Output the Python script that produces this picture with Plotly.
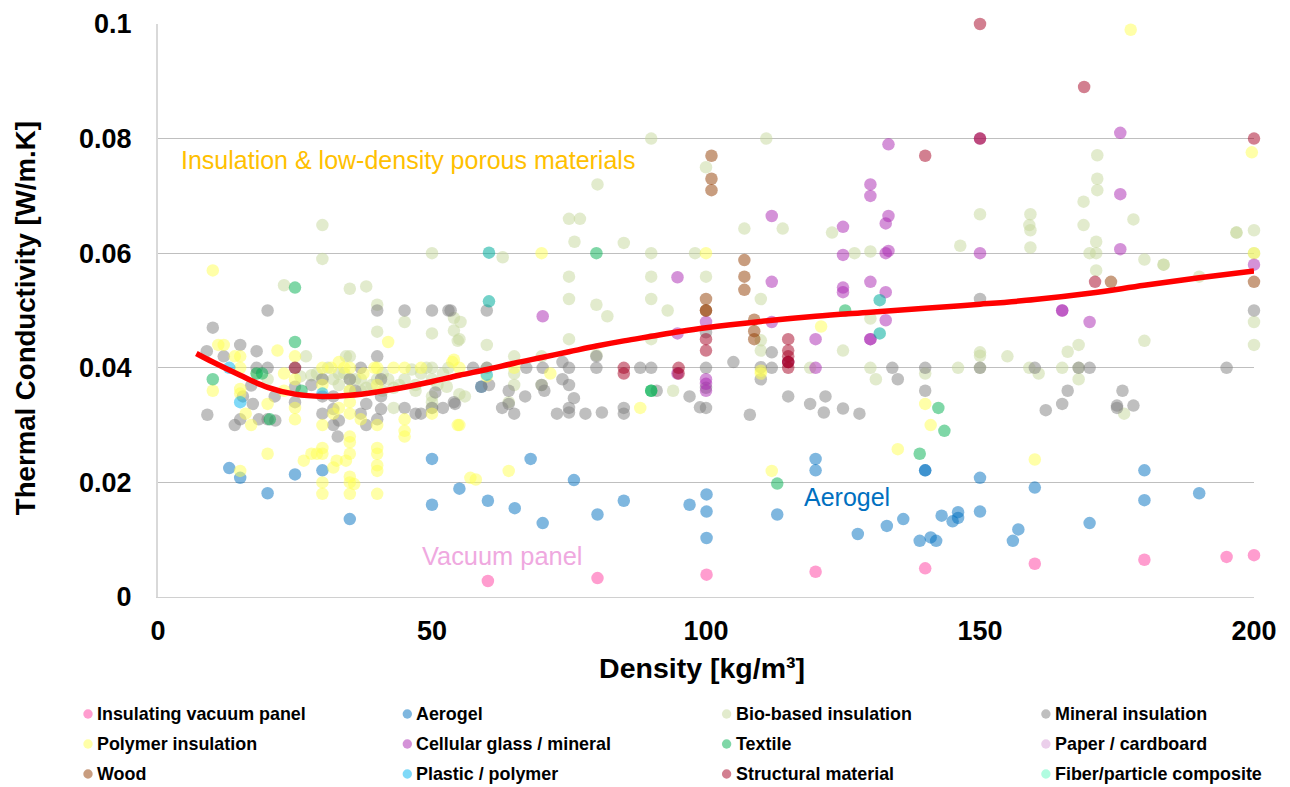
import plotly.graph_objects as go

FONT = "Liberation Sans, Arial, sans-serif"

# --- data (density kg/m3, conductivity W/m.K) ---
vacuum_x = [60.2, 80.2, 100.1, 120, 140, 160, 180, 195, 200]
vacuum_y = [.0028, .0033, .0039, .0044, .005, .0058, .0065, .007, .0073]

aerogel_x = [13, 15, 20, 25, 30, 35, 50, 50, 55, 59, 60.2, 65.1, 68, 70.2, 75.9, 80.2, 85, 97, 100.1, 100.1, 100.1,
             113, 120, 120, 127.7, 133, 136, 139, 140, 140, 141, 142, 143, 145, 146, 146, 150, 150, 156, 157, 160,
             170, 180, 180, 190]
aerogel_y = [.0225, .0208, .0181, .0214, .0221, .0136, .0241, .0161, .0189, .0367, .0168, .0155, .0241, .0129, .0204,
             .0144, .0168, .0161, .0179, .0149, .0103, .0144, .0241, .0221, .011, .0124, .0136, .0098, .0221, .0221,
             .0104, .0098, .0142, .0132, .0148, .0138, .0208, .0149, .0098, .0118, .0191, .0129, .0221, .0169, .0181]

bio_x = [23, 30, 30, 35, 38, 40, 40, 45, 50, 50, 54, 54, 54.7, 55.2, 55, 27, 34.3, 35, 20, 18, 26, 28, 32, 35, 39, 38,
         43, 45, 46.3, 50, 50, 53, 52.7, 50, 50, 50, 43, 36, 42, 55, 56, 60, 62.9, 60, 65, 65, 65, 64, 70, 70, 75, 75,
         75, 75, 77, 76, 80.2, 80, 80, 82, 85, 90, 90, 90, 90, 90, 93, 94, 98, 100, 100, 107, 110, 110, 110, 111, 114,
         119, 123, 125, 127.1, 130, 130, 130, 131, 140, 146.4, 146, 150, 150, 150, 150, 155, 159, 159.2, 159.2, 159.2,
         159, 160.7, 165, 166, 168, 168, 168, 168.9, 168.9, 170, 171.2, 171.2, 171.2, 171.4, 171.4, 171.4, 176.3, 178,
         180, 180, 183.5, 183.5, 190, 196.8, 196.8, 200, 200, 200, 200,
         29, 31, 33, 34, 37, 41, 44, 47, 48, 49, 51, 52, 30, 35, 40, 37, 41, 33, 47]
bio_y = [.0544, .0649, .059, .0538, .0542, .051, .0463, .048, .046, .06, .0487, .0465, .0447, .048, .045, .042, .042,
         .042, .038, .039, .0385, .0387, .038, .038, .037, .0365, .0365, .038, .0397, .04, .038, .04, .0367, .035,
         .034, .033, .033, .038, .038, .0354, .035, .044, .0593, .04, .042, .039, .037, .034, .042, .037, .045, .0559,
         .052, .066, .066, .062, .072, .051, .0422, .049, .0618, .08, .06, .0559, .052, .045, .05, .036, .06, .075,
         .0559, .0643, .052, .0448, .043, .08, .0643, .04, .0636, .043, .06, .0603, .0486, .04, .038, .039, .0613,
         .04, .0668, .0427, .0421, .04, .042, .0649, .0668, .064, .061, .04, .039, .04, .0428, .044, .04, .038, .069,
         .0649, .06, .062, .06, .057, .0771, .073, .071, .032, .0659, .0589, .0447, .058, .058, .0559, .0636, .0636,
         .064, .048, .044, .06,
         .039, .04, .037, .039, .036, .039, .037, .037, .039, .04, .037, .039, .038, .036, .038, .038, .036, .039, .036]

mineral_x = [8.9, 10, 9, 12, 15, 18, 20, 18, 20, 14, 15, 15.5, 17.3, 17, 18.4, 20, 21.4, 21.3, 25, 25, 25, 28, 30, 30, 30,
             32, 32, 33, 32, 32.8, 35, 36, 37, 37, 38, 38, 40, 40, 40.7, 40.7, 40.7, 40, 45, 45, 50, 53, 53.4, 47, 48,
             50, 52, 54, 50.6, 54.2, 57.5, 60, 60, 59, 60.4, 64, 64, 62.8, 65, 67, 67.2, 70, 70.2, 70.5, 72.8, 73.8, 73.8,
             75, 75, 75, 75, 75.9, 78, 80, 80, 81, 85, 85, 88, 90, 91, 97, 98.9, 100, 100, 100, 100, 105, 108, 110, 110,
             112, 112, 115, 119, 121.5, 121.8, 125, 128, 134, 135, 140, 140, 150, 150, 160, 162, 165, 166, 168, 170,
             175, 175, 176, 178, 195, 200]
mineral_y = [.0429, .047, .0318, .042, .044, .0429, .05, .04, .04, .03, .031, .035, .0337, .0369, .031, .031, .0308, .035,
             .04, .0367, .034, .037, .038, .035, .032, .035, .0328, .0308, .03, .028, .038, .036, .04, .032, .0337, .03,
             .042, .05, .038, .035, .0328, .031, .05, .033, .05, .05, .05, .032, .032, .033, .033, .034, .0357, .0337,
             .04, .05, .04, .0367, .037, .036, .0337, .033, .032, .035, .04, .037, .04, .036, .032, .041, .038, .04, .037,
             .033, .0322, .0347, .032, .04, .042, .0322, .033, .032, .04, .04, .036, .035, .0331, .033, .04, .0462, .0365,
             .041, .0318, .0401, .038, .0427, .04, .035, .0337, .0322, .035, .0329, .032, .04, .038, .04, .036, .052, .04,
             .04, .0326, .0337, .036, .04, .04, .0334, .033, .036, .0334, .04, .05]

polymer_x = [10, 11, 12, 14, 15, 15, 10, 15, 15, 16, 17, 20, 21.8, 23, 20, 15, 25, 25, 25, 25, 23, 30, 31.6, 33, 34, 35, 37.5,
             39.5, 40, 43, 45, 48, 54, 42, 40, 35, 30, 33, 32, 35, 35, 37, 40, 45, 45, 45, 30, 35, 35, 30, 30, 26.6, 28, 29,
             35, 40, 40, 32.6, 34.3, 32, 40, 40, 35, 35, 35.8, 30, 30, 35, 40, 54.7, 50, 53.7, 55, 60, 55, 57, 58, 64, 65,
             70, 71.6, 88, 100, 110, 110, 112, 121, 135, 140, 141, 160, 177.5, 199.6, 200]
polymer_y = [.057, .044, .044, .042, .042, .04, .036, .0363, .0355, .032, .03, .0337, .043, .039, .025, .022, .042, .038,
             .033, .031, .036, .04, .04, .041, .04, .04, .039, .04, .04, .04, .04, .04, .0414, .0445, .037, .036, .037, .033,
             .032, .034, .032, .031, .03, .031, .029, .028, .03, .028, .027, .026, .025, .0238, .025, .025, .025, .026, .025,
             .0238, .0238, .0226, .023, .022, .021, .02, .0197, .02, .018, .018, .018, .03, .032, .041, .04, .0385, .03, .0208,
             .0205, .022, .04, .06, .039, .033, .06, .0395, .039, .022, .0472, .0258, .0337, .03, .024, .099, .0776, .06]

cellular_x = [70.2, 94.8, 94.8, 94.8, 100, 100, 100, 100, 112, 112, 112, 115, 120, 120, 125, 125, 125, 125, 130, 130, 130, 130,
              130, 132.8, 132.8, 132.8, 132.8, 133.3, 133.3, 133.3, 150, 150, 165, 165, 170, 175.6, 175.6, 175.6, 200]
cellular_y = [.049, .0558, .046, .039, .048, .038, .0372, .036, .0665, .055, .048, .041, .045, .04, .0646, .0597, .054, .0532,
              .072, .07, .055, .045, .045, .0652, .06, .0532, .0483, .079, .0665, .0604, .08, .06, .05, .05, .048, .081, .0703, .0607, .058]

textile_x = [10, 25, 25, 18, 19, 20.4, 26.2, 80, 90, 90, 113, 125.4, 139, 142.4, 143.5]
textile_y = [.038, .054, .0445, .039, .039, .031, .036, .06, .036, .036, .0198, .05, .025, .033, .029]

paper_x = [None]
paper_y = [None]

wood_x = [100, 100, 100, 101, 101, 101, 107, 107, 107, 108.8, 108.8, 108.8, 173.9, 200]
wood_y = [.052, .05, .05, .077, .073, .071, .0588, .0559, .0536, .0484, .0464, .045, .055, .055]

plastic_x = [13, 15, 30, 60]
plastic_y = [.04, .034, .0355, .0388]

teal_x = [60.4, 60.4, 131.7, 131.7]
teal_y = [.0601, .0516, .0518, .046]

structural_x = [25, 85, 85, 95, 95, 100, 100, 115, 115, 115, 115, 115, 115, 140, 150, 150, 169, 171, 200]
structural_y = [.04, .04, .039, .04, .039, .045, .043, .045, .043, .042, .041, .041, .04, .077, .1, .08, .089, .055, .08]

fiber_x = [None]
fiber_y = [None]

trend_x = [7, 10, 15, 20, 25, 30, 35, 40, 45, 50, 55, 60, 65, 70, 75, 80, 85, 90, 95, 100, 110, 120, 130, 140, 150, 160, 170,
           180, 190, 200]
trend_y = [.0425, .041, .0387, .0366, .0354, .035, .0352, .0358, .0366, .0376, .0387, .0397, .0408, .0418, .0428, .0438,
           .0447, .0455, .0463, .047, .0481, .049, .0497, .0504, .0511, .0519, .053, .0544, .0557, .0569]

series_names = ["Insulating vacuum panel", "Aerogel", "Bio-based insulation", "Mineral insulation",
                "Polymer insulation", "Cellular glass / mineral", "Textile", "Paper / cardboard",
                "Wood", "Plastic / polymer", "Structural material", "Fiber/particle composite"]
series_x = [vacuum_x, aerogel_x, bio_x, mineral_x, polymer_x, cellular_x, textile_x, paper_x, wood_x, plastic_x,
            structural_x, fiber_x]
series_y = [vacuum_y, aerogel_y, bio_y, mineral_y, polymer_y, cellular_y, textile_y, paper_y, wood_y, plastic_y,
            structural_y, fiber_y]
series_colors = ["rgba(255,59,159,.5)", "rgba(0,112,192,.5)", "rgba(197,215,155,.5)", "rgba(127,127,127,.5)",
                 "rgba(255,255,81,.5)", "rgba(169,37,177,.5)", "rgba(0,176,80,.5)", "rgba(215,160,215,.5)",
                 "rgba(145,59,0,.5)", "rgba(0,179,241,.5)", "rgba(165,0,33,.5)", "rgba(97,249,193,.5)"]

fig = go.Figure()
for name, xs, ys, col in zip(series_names, series_x, series_y, series_colors):
    fig.add_trace(go.Scatter(x=xs, y=ys, mode="markers", name=name, showlegend=False, cliponaxis=False,
                             marker=dict(size=12.5, color=col, line=dict(width=0))))
fig.add_trace(go.Scatter(x=teal_x, y=teal_y, mode="markers", name="Composite", showlegend=False,
                         marker=dict(size=12.5, color="rgba(0,173,157,.55)", line=dict(width=0))))
fig.add_trace(go.Scatter(x=trend_x, y=trend_y, mode="lines", name="Trend", showlegend=False,
                         line=dict(color="#FF0000", width=5.5, shape="spline", smoothing=1)))

annotations = [
    dict(x=3.8, y=0.0763, text="Insulation &amp; low-density porous materials", font=dict(size=25, color="#FFC000", family=FONT)),
    dict(x=117.5, y=0.01745, text="Aerogel", font=dict(size=25, color="#0070C0", family=FONT)),
    dict(x=47.9, y=0.00716, text="Vacuum panel", font=dict(size=25.4, color="#EFA9DF", family=FONT)),
]
for a in annotations:
    a.update(xref="x", yref="y", xanchor="left", yanchor="middle", showarrow=False)

shapes = []
for i, (name, col) in enumerate(zip(series_names, series_colors)):
    col_i, row_i = i % 4, i // 4
    cx = 88 + 319.3 * col_i
    cy = 714 + 30 * row_i
    shapes.append(dict(type="circle", xref="paper", yref="paper", xsizemode="pixel", ysizemode="pixel",
                       xanchor=(cx - 158) / 1096, yanchor=(597 - cy) / 573,
                       x0=-4.7, x1=4.7, y0=-4.7, y1=4.7, fillcolor=col, line=dict(width=0)))
    annotations.append(dict(xref="paper", yref="paper", x=(cx + 7 - 158) / 1096, y=(597 - cy - 0.2) / 573,
                            text="<b>%s</b>" % name, showarrow=False, xanchor="left", yanchor="middle",
                            font=dict(size=17.9, color="#000000", family=FONT)))

fig.update_layout(
    width=1290, height=787, autosize=False,
    margin=dict(l=158, r=36, t=24, b=190, pad=0),
    paper_bgcolor="#FFFFFF", plot_bgcolor="#FFFFFF",
    showlegend=False, annotations=annotations, shapes=shapes,
    font=dict(family=FONT, color="#000000"),
    xaxis=dict(range=[0, 200], tickvals=[0, 50, 100, 150, 200], ticks="outside", ticklen=10, tickcolor="rgba(0,0,0,0)",
               automargin=False, showgrid=False, zeroline=False, showline=True, linecolor="#D0D0D0", linewidth=1,
               tickfont=dict(size=27, family=FONT, weight="bold", color="#000000"),
               title=dict(text="<b>Density [kg/m³]\u00a0</b>", font=dict(size=28.5, family=FONT, color="#000000"), standoff=12)),
    yaxis=dict(range=[0, 0.1], tickvals=[0, .02, .04, .06, .08, .1], ticktext=["0", "0.02", "0.04", "0.06", "0.08", "0.1"],
               ticks="outside", ticklen=19, tickcolor="rgba(0,0,0,0)", gridcolor="#BFBFBF", gridwidth=1, zeroline=False,
               automargin=False, showline=True, linecolor="#D9D9D9", linewidth=2,
               tickfont=dict(size=27, family=FONT, weight="bold", color="#000000"),
               title=dict(text="<b>Thermal Conductivity [W/m.K]\u00a0\u00a0</b>", font=dict(size=27.6, family=FONT, color="#000000"), standoff=35)),
)
fig.write_html("out.html", config={"displayModeBar": False}, post_script="document.body.style.margin='0';")
